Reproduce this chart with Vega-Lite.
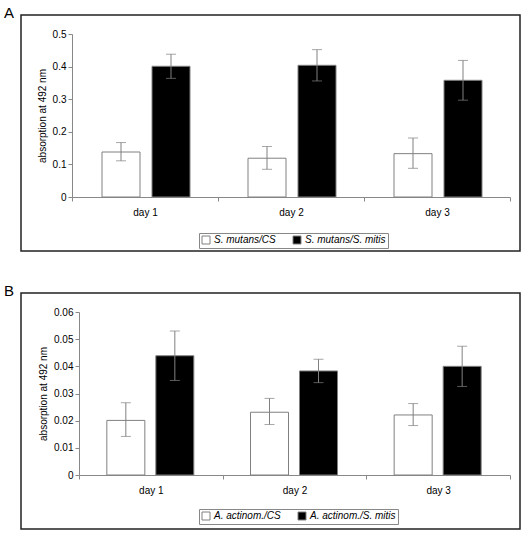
{
  "$schema": "https://vega.github.io/schema/vega-lite/v6.json",
  "padding": {"left": 3, "top": 5, "right": 2, "bottom": 0},
  "spacing": 31,
  "config": {
    "font": "Liberation Sans",
    "view": {"stroke": "#222", "strokeWidth": 1.5},
    "title": {"anchor": "start", "frame": "group", "fontSize": 15, "fontWeight": "normal", "dx": -17, "offset": -6, "color": "black"},
    "axis": {"domainColor": "#888", "tickColor": "#888", "tickSize": 4, "grid": false, "labelFontSize": 10, "titleFontSize": 10, "titleFontWeight": "normal", "labelColor": "black", "titleColor": "black"},
    "legend": {"orient": "none", "direction": "horizontal", "strokeColor": "#888", "padding": 2, "labelFontSize": 10, "labelFontStyle": "italic", "symbolType": "square", "symbolSize": 64, "columnPadding": 15, "labelOffset": 3, "title": null},
    "bar": {"width": 38, "stroke": "#808080", "strokeWidth": 1},
    "rule": {"color": "#808080", "strokeWidth": 1},
    "tick": {"color": "#808080", "thickness": 1, "size": 10}
  },
  "vconcat": [
    {
      "title": "A",
      "width": 499,
      "height": 236,
      "data": {"values": [
        {"day": "day 1", "series": "S. mutans/CS", "value": 0.138, "lo": 0.111, "hi": 0.167},
        {"day": "day 1", "series": "S. mutans/S. mitis", "value": 0.401, "lo": 0.364, "hi": 0.438},
        {"day": "day 2", "series": "S. mutans/CS", "value": 0.119, "lo": 0.085, "hi": 0.155},
        {"day": "day 2", "series": "S. mutans/S. mitis", "value": 0.404, "lo": 0.356, "hi": 0.452},
        {"day": "day 3", "series": "S. mutans/CS", "value": 0.133, "lo": 0.088, "hi": 0.181},
        {"day": "day 3", "series": "S. mutans/S. mitis", "value": 0.358, "lo": 0.297, "hi": 0.419}
      ]},
      "encoding": {
        "x": {"field": "day", "type": "nominal", "scale": {"range": [51, 489], "paddingInner": 0, "paddingOuter": 0},
              "axis": {"title": null, "labelAngle": 0, "offset": -54, "tickBand": "extent", "labelPadding": 6}},
        "y": {"field": "value", "type": "quantitative", "scale": {"domain": [0, 0.5], "range": [182, 19], "nice": false},
              "axis": {"title": "absorption at 492 nm", "offset": -51, "values": [0, 0.1, 0.2, 0.3, 0.4, 0.5], "format": "~g", "titlePadding": 5}}
      },
      "layer": [
        {"transform": [{"filter": {"field": "series", "equal": "S. mutans/CS"}}],
         "layer": [
          {"mark": {"type": "bar", "xOffset": -24},
           "encoding": {"fill": {"field": "series", "type": "nominal", "scale": {"domain": ["S. mutans/CS", "S. mutans/S. mitis"], "range": ["white", "black"]},
                                 "legend": {"legendX": 178, "legendY": 218}}}},
          {"mark": {"type": "rule", "xOffset": -24}, "encoding": {"y": {"field": "lo", "type": "quantitative"}, "y2": {"field": "hi"}}},
          {"mark": {"type": "tick", "xOffset": -24}, "encoding": {"y": {"field": "lo", "type": "quantitative"}}},
          {"mark": {"type": "tick", "xOffset": -24}, "encoding": {"y": {"field": "hi", "type": "quantitative"}}}
         ]},
        {"transform": [{"filter": {"field": "series", "equal": "S. mutans/S. mitis"}}],
         "layer": [
          {"mark": {"type": "bar", "xOffset": 26},
           "encoding": {"fill": {"field": "series", "type": "nominal"}}},
          {"mark": {"type": "rule", "xOffset": 26}, "encoding": {"y": {"field": "lo", "type": "quantitative"}, "y2": {"field": "hi"}}},
          {"mark": {"type": "tick", "xOffset": 26}, "encoding": {"y": {"field": "lo", "type": "quantitative"}}},
          {"mark": {"type": "tick", "xOffset": 26}, "encoding": {"y": {"field": "hi", "type": "quantitative"}}}
         ]}
      ]
    },
    {
      "title": "B",
      "width": 499,
      "height": 236,
      "data": {"values": [
        {"day": "day 1", "series": "A. actinom./CS", "value": 0.0201, "lo": 0.0142, "hi": 0.0266},
        {"day": "day 1", "series": "A. actinom./S. mitis", "value": 0.0439, "lo": 0.0348, "hi": 0.053},
        {"day": "day 2", "series": "A. actinom./CS", "value": 0.0231, "lo": 0.0186, "hi": 0.0282},
        {"day": "day 2", "series": "A. actinom./S. mitis", "value": 0.0383, "lo": 0.034, "hi": 0.0426},
        {"day": "day 3", "series": "A. actinom./CS", "value": 0.0221, "lo": 0.0182, "hi": 0.0263},
        {"day": "day 3", "series": "A. actinom./S. mitis", "value": 0.04, "lo": 0.0326, "hi": 0.0474}
      ]},
      "encoding": {
        "x": {"field": "day", "type": "nominal", "scale": {"range": [58, 489], "paddingInner": 0, "paddingOuter": 0},
              "axis": {"title": null, "labelAngle": 0, "offset": -54, "tickBand": "extent", "labelPadding": 6}},
        "y": {"field": "value", "type": "quantitative", "scale": {"domain": [0, 0.06], "range": [182, 19], "nice": false},
              "axis": {"title": "absorption at 492 nm", "offset": -58, "values": [0, 0.01, 0.02, 0.03, 0.04, 0.05, 0.06], "format": "~g", "titlePadding": 5}}
      },
      "layer": [
        {"transform": [{"filter": {"field": "series", "equal": "A. actinom./CS"}}],
         "layer": [
          {"mark": {"type": "bar", "xOffset": -25},
           "encoding": {"fill": {"field": "series", "type": "nominal", "scale": {"domain": ["A. actinom./CS", "A. actinom./S. mitis"], "range": ["white", "black"]},
                                 "legend": {"legendX": 178, "legendY": 216}}}},
          {"mark": {"type": "rule", "xOffset": -25}, "encoding": {"y": {"field": "lo", "type": "quantitative"}, "y2": {"field": "hi"}}},
          {"mark": {"type": "tick", "xOffset": -25}, "encoding": {"y": {"field": "lo", "type": "quantitative"}}},
          {"mark": {"type": "tick", "xOffset": -25}, "encoding": {"y": {"field": "hi", "type": "quantitative"}}}
         ]},
        {"transform": [{"filter": {"field": "series", "equal": "A. actinom./S. mitis"}}],
         "layer": [
          {"mark": {"type": "bar", "xOffset": 24},
           "encoding": {"fill": {"field": "series", "type": "nominal"}}},
          {"mark": {"type": "rule", "xOffset": 24}, "encoding": {"y": {"field": "lo", "type": "quantitative"}, "y2": {"field": "hi"}}},
          {"mark": {"type": "tick", "xOffset": 24}, "encoding": {"y": {"field": "lo", "type": "quantitative"}}},
          {"mark": {"type": "tick", "xOffset": 24}, "encoding": {"y": {"field": "hi", "type": "quantitative"}}}
         ]}
      ]
    }
  ],
  "resolve": {"scale": {"fill": "independent"}}
}
